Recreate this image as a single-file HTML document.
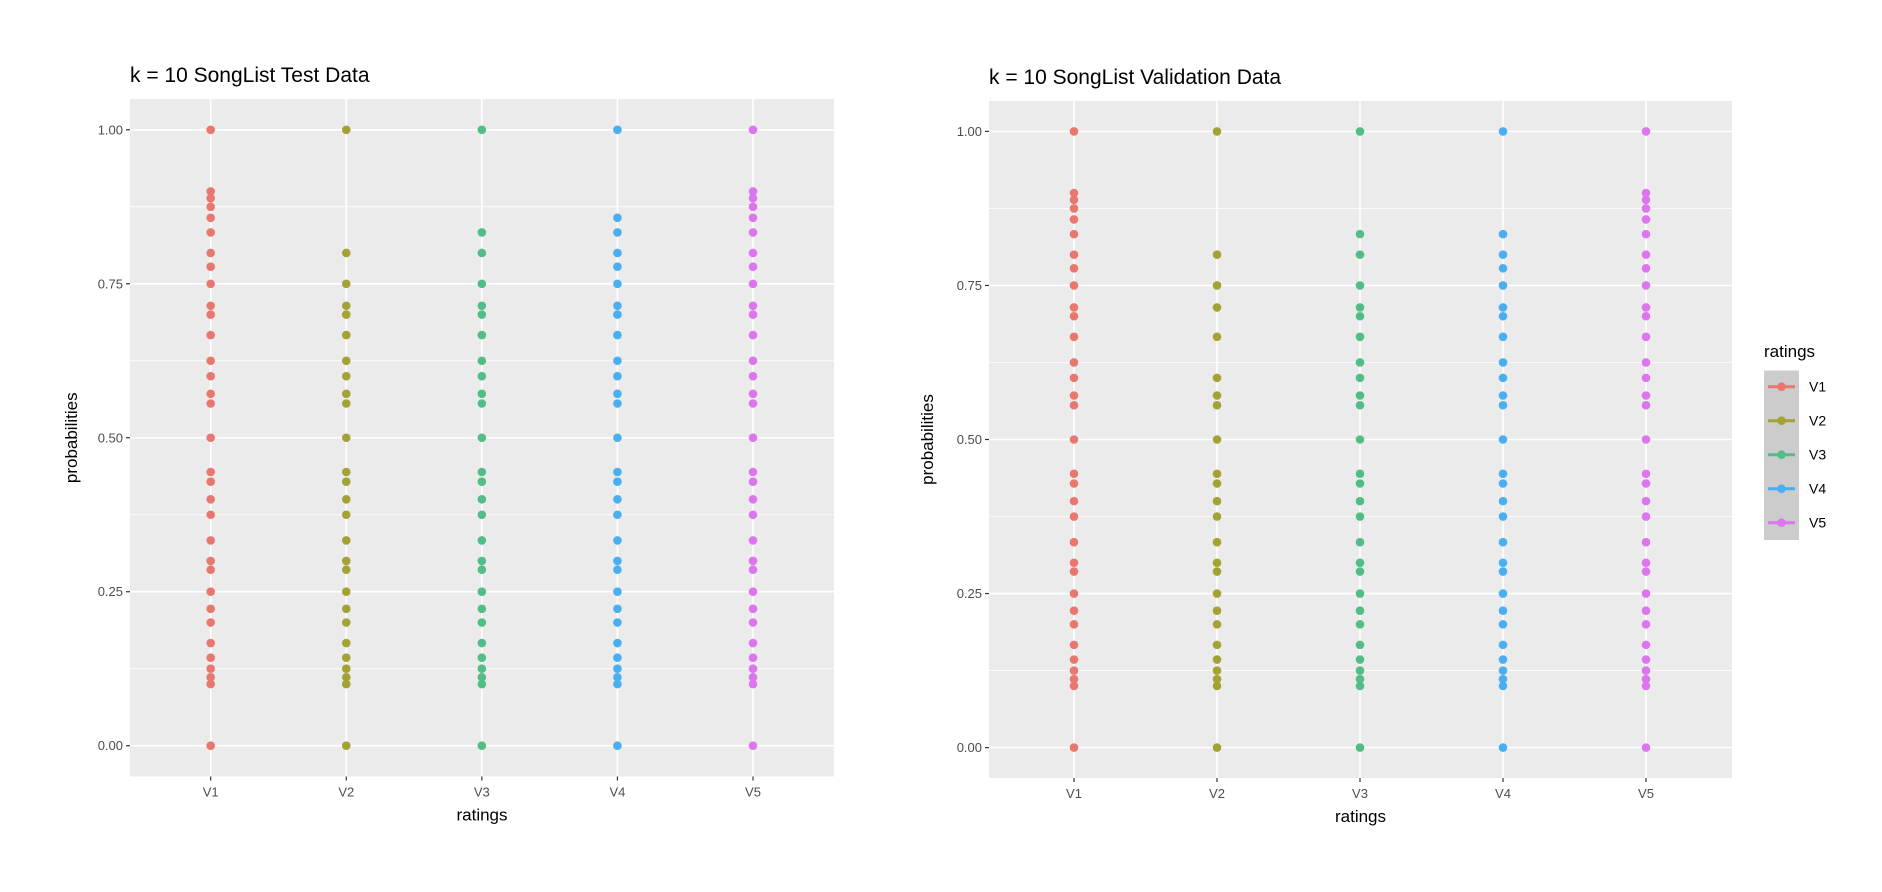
<!DOCTYPE html>
<html><head><meta charset="utf-8">
<style>
html,body{margin:0;padding:0;background:#fff;}
svg{display:block;font-family:"Liberation Sans",Arial,sans-serif;}
</style></head>
<body>
<svg id="chart" width="1882" height="892" viewBox="0 0 1882 892" xmlns="http://www.w3.org/2000/svg"></svg>
<script>
const categories = ["V1","V2","V3","V4","V5"];
const seriesColors = ["#E8786F","#A4A234","#52BE85","#4AAFF0","#DC75EE"];
const yTicks = [0, 0.25, 0.5, 0.75, 1.0];
const yTickLabels = ["0.00","0.25","0.50","0.75","1.00"];
const lowVals = [0,0.1,0.1111,0.125,0.1429,0.1667,0.2,0.2222,0.25,0.2857,0.3,0.3333,0.375,0.4,0.4286,0.4444,0.5];
const testV1 = lowVals.concat([0.5556,0.5714,0.6,0.625,0.6667,0.7,0.7143,0.75,0.7778,0.8,0.8333,0.8571,0.875,0.8889,0.9,1]);
const testV2 = lowVals.concat([0.5556,0.5714,0.6,0.625,0.6667,0.7,0.7143,0.75,0.8,1]);
const testV3 = lowVals.concat([0.5556,0.5714,0.6,0.625,0.6667,0.7,0.7143,0.75,0.8,0.8333,1]);
const testV4 = lowVals.concat([0.5556,0.5714,0.6,0.625,0.6667,0.7,0.7143,0.75,0.7778,0.8,0.8333,0.8571,1]);
const testV5 = lowVals.concat([0.5556,0.5714,0.6,0.625,0.6667,0.7,0.7143,0.75,0.7778,0.8,0.8333,0.8571,0.875,0.8889,0.9,1]);
const valV1 = lowVals.concat([0.5556,0.5714,0.6,0.625,0.6667,0.7,0.7143,0.75,0.7778,0.8,0.8333,0.8571,0.875,0.8889,0.9,1]);
const valV2 = lowVals.concat([0.5556,0.5714,0.6,0.6667,0.7143,0.75,0.8,1]);
const valV3 = lowVals.concat([0.5556,0.5714,0.6,0.625,0.6667,0.7,0.7143,0.75,0.8,0.8333,1]);
const valV4 = lowVals.concat([0.5556,0.5714,0.6,0.625,0.6667,0.7,0.7143,0.75,0.7778,0.8,0.8333,1]);
const valV5 = lowVals.concat([0.5556,0.5714,0.6,0.625,0.6667,0.7,0.7143,0.75,0.7778,0.8,0.8333,0.8571,0.875,0.8889,0.9,1]);
const testSeries = [testV1,testV2,testV3,testV4,testV5];
const valSeries = [valV1,valV2,valV3,valV4,valV5];

const NS = "http://www.w3.org/2000/svg";
const svg = document.getElementById("chart");
function mk(tag, attrs, parent){
  const e = document.createElementNS(NS, tag);
  for (const k in attrs) e.setAttribute(k, attrs[k]);
  (parent||svg).appendChild(e);
  return e;
}

function drawPanel(cfg){
  const g = mk("g", {});
  
  
  const {x0,x1,y0,y1,yZero,yOne,xFirst,xLast} = cfg;
  const yScale = v => yZero + (yOne - yZero) * v;
  const xScale = i => xFirst + (xLast - xFirst) * i / (categories.length - 1);
  const bg = mk("rect", {x:x0, y:y0, width:x1-x0, height:y1-y0, fill:"#EBEBEB"}, g);
  
  
  for (let i=0;i<yTicks.length-1;i++){
    const v = (yTicks[i]+yTicks[i+1])/2;
    const l = mk("line", {x1:x0, x2:x1, y1:yScale(v), y2:yScale(v), stroke:"#fff", "stroke-width":0.8}, g);
    
    
  }
  yTicks.forEach((v,i)=>{
    const y = yScale(v);
    const l = mk("line", {x1:x0, x2:x1, y1:y, y2:y, stroke:"#fff", "stroke-width":1.6}, g);
    
    
    const t = mk("line", {x1:x0-4, x2:x0, y1:y, y2:y, stroke:"#333", "stroke-width":1.2}, g);
    
    
    const tx = mk("text", {x:x0-7, y:y+4.5, "text-anchor":"end", "font-size":13, fill:"#4D4D4D"}, g);
    tx.textContent = yTickLabels[i];
    
    
  });
  categories.forEach((c,i)=>{
    const x = xScale(i);
    const l = mk("line", {x1:x, x2:x, y1:y0, y2:y1, stroke:"#fff", "stroke-width":1.6}, g);
    
    
    const t = mk("line", {x1:x, x2:x, y1:y1, y2:y1+4, stroke:"#333", "stroke-width":1.2}, g);
    
    
    const tx = mk("text", {x:x, y:y1+20, "text-anchor":"middle", "font-size":13, fill:"#4D4D4D"}, g);
    tx.textContent = c;
    
    
  });
  cfg.series.forEach((vals,si)=>{
    vals.forEach(v=>{
      const p = mk("circle", {cx:xScale(si), cy:yScale(v), r:4.3, fill:seriesColors[si]}, g);
      
      
    });
  });
  const title = mk("text", {x:x0, y:cfg.titleY, "font-size":21, fill:"#000"}, g);
  title.textContent = cfg.title;
  
  
  const xt = mk("text", {x:(x0+x1)/2, y:y1+44, "text-anchor":"middle", "font-size":17, fill:"#000"}, g);
  xt.textContent = "ratings";
  
  
  const yx = cfg.yTitleX, yy = (y0+y1)/2;
  const yt = mk("text", {x:yx, y:yy, "text-anchor":"middle", "font-size":17, fill:"#000", transform:`rotate(-90 ${yx} ${yy})`}, g);
  yt.textContent = "probabilities";
  
  
}

drawPanel({name:"test-data-panel", title:"k = 10 SongList Test Data", series:testSeries, titleY:82,
  x0:130, x1:834, y0:99, y1:776.5, yZero:745.7, yOne:129.8, xFirst:210.7, xLast:753, yTitleX:77});
drawPanel({name:"validation-data-panel", title:"k = 10 SongList Validation Data", series:valSeries, titleY:84,
  x0:989, x1:1732, y0:101, y1:778, yZero:747.6, yOne:131.4, xFirst:1074, xLast:1646, yTitleX:933});

const lg = mk("g", {});


const lt = mk("text", {x:1764, y:357, "font-size":17, fill:"#000"}, lg);
lt.textContent = "ratings";


const lb = mk("rect", {x:1764, y:370.5, width:35, height:169.5, fill:"#CCCCCC"}, lg);


categories.forEach((c,i)=>{
  const y = 386.7 + i*34;
  const e = mk("g", {}, lg);
  
  
  mk("line", {x1:1768, x2:1795, y1:y, y2:y, stroke:seriesColors[i], "stroke-width":3}, e);
  mk("circle", {cx:1781.5, cy:y, r:4.3, fill:seriesColors[i]}, e);
  const t = mk("text", {x:1809, y:y+5, "font-size":14, fill:"#000"}, e);
  t.textContent = c;
});
</script>
</body></html>
